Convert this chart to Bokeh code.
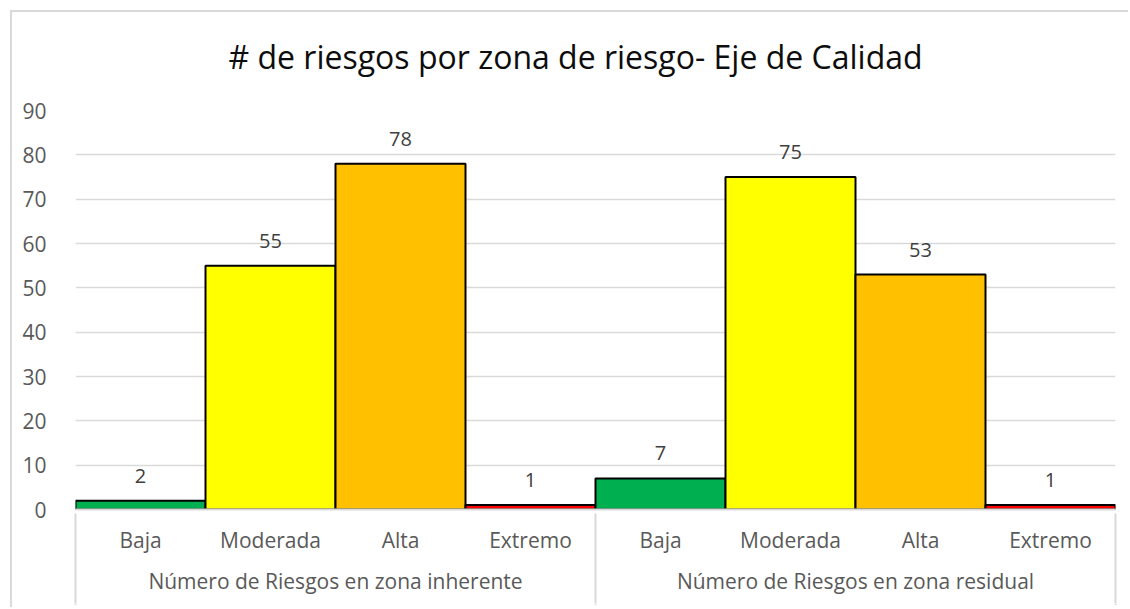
from bokeh.plotting import figure
from bokeh.models import (FactorRange, ColumnDataSource, LabelSet, FixedTicker, Range1d,
                          CategoricalAxis)
from bokeh.core.properties import value
from bokeh.embed import file_html
from bokeh.resources import INLINE

title_text = "# de riesgos por zona de riesgo- Eje de Calidad"
groups = ["Número de Riesgos en zona inherente", "Número de Riesgos en zona residual"]
zones = ["Baja", "Moderada", "Alta", "Extremo"]
inherente = [2, 55, 78, 1]
residual = [7, 75, 53, 1]
zone_colors = ["#00B050", "#FFFF00", "#FFC000", "#FF0000"]
y_ticks = [0, 10, 20, 30, 40, 50, 60, 70, 80, 90]

FONT = "Open Sans"
GREY = "#d9d9d9"

factors = [(g, z) for g in groups for z in zones]
values = inherente + residual
colors = zone_colors * len(groups)

source = ColumnDataSource(dict(x=factors, v=values, c=colors, lbl=[str(v) for v in values]))

p = figure(
    x_range=FactorRange(*factors, factor_padding=0, group_padding=0, range_padding=0),
    y_range=Range1d(y_ticks[0], y_ticks[-1]),
    frame_width=1040, frame_height=399,
    min_border_left=75, min_border_right=13, min_border_top=110, min_border_bottom=96,
    output_backend="svg", toolbar_location=None, title=title_text,
    border_fill_color=None,
    styles={"background": "linear-gradient(#d9d9d9,#d9d9d9) left 10px top 10px / 2px 100% no-repeat, "
                          "linear-gradient(#d9d9d9,#d9d9d9) left 10px top 10px / 100% 2px no-repeat, white"},
)

p.vbar(x="x", top="v", width=1.0, fill_color="c", line_color="black", line_width=2, source=source)

p.add_layout(LabelSet(x="x", y="v", text="lbl", source=source, text_align="center",
                      text_baseline="alphabetic", y_offset=18, text_font=value(FONT),
                      text_font_size="20px", text_color="#404040"))

# title
p.title.align = "left"
p.title.offset = 153
p.title.text_font = FONT
p.title.text_font_size = "32px"
p.title.text_font_style = "normal"
p.title.text_color = "#0d0d0d"
p.title.standoff = 65

# grid / outline
p.xgrid.grid_line_color = None
p.ygrid.grid_line_color = GREY
p.ygrid.grid_line_width = 1.5
p.outline_line_color = None

# y axis
p.yaxis.ticker = FixedTicker(ticks=y_ticks)
p.yaxis.axis_line_color = None
p.yaxis.major_tick_line_color = None
p.yaxis.minor_tick_line_color = None
p.yaxis.major_label_text_font = FONT
p.yaxis.major_label_text_font_size = "21px"
p.yaxis.major_label_text_color = "#595959"
p.yaxis.major_label_standoff = 23

# x axis (categories + groups)
p.xaxis.axis_line_color = GREY
p.xaxis.axis_line_width = 2
p.xaxis.major_tick_line_color = None
p.xaxis.major_label_text_font = FONT
p.xaxis.major_label_text_font_size = "21px"
p.xaxis.major_label_text_color = "#595959"
p.xaxis.major_label_standoff = 10
p.xaxis.group_text_font = FONT
p.xaxis.group_text_font_size = "21px"
p.xaxis.group_text_color = "#595959"
p.xaxis.group_text_font_style = "normal"
p.xaxis.separator_line_color = None

# category separators: ticks of a second axis stacked under the category axis,
# pointing up to the baseline (one factor per edge; range shrunk so that the
# first/last edge fall on the frame borders)
edge_names = ["e%d" % k for k in range(len(groups) + 1)]
n_e = len(edge_names)
p.extra_x_ranges = {"edges": FactorRange(*edge_names, range_padding=-(1.0 / n_e) * (1 - 1e-6),
                                         range_padding_units="percent")}
sep_axis = CategoricalAxis(x_range_name="edges",
                           axis_line_color=None, major_tick_line_color=GREY, major_tick_line_width=2,
                           major_tick_in=84, major_tick_out=6, minor_tick_line_color=None,
                           major_label_standoff=0,
                           major_label_overrides={e: "" for e in edge_names},
                           major_label_text_font_size="1px")
p.add_layout(sep_axis, "below")

open("out.html", "w").write(file_html(p, INLINE))
